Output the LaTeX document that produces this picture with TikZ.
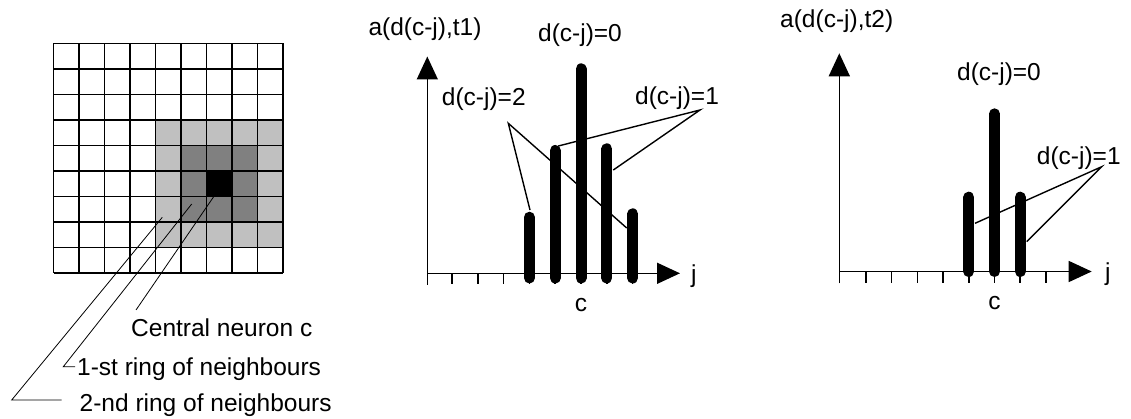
\documentclass[tikz,border=0pt]{standalone}
\usepackage{fontspec}
\setmainfont{Liberation Sans}
\usetikzlibrary{arrows.meta}
\definecolor{lightgrey}{HTML}{C0C0C0}
\definecolor{darkgrey}{HTML}{808080}
\begin{document}
\begin{tikzpicture}[x=1pt,y=-1pt,
  lbl/.style={inner sep=0pt, font=\fontsize{24.5}{29}\selectfont},
  axisline/.style={line width=1.5pt, -{Triangle[length=23pt,width=21pt]}},
  tickline/.style={line width=1.5pt},
  barline/.style={line width=11pt, line cap=round},
  pointer/.style={line width=1.4pt},
  thinpointer/.style={line width=0.8pt},
  gridline/.style={line width=1.7pt}]
\useasboundingbox (0,0) rectangle (1131,419);

% ---------------- grid ----------------
\def\gx{53.5}\def\gy{43.5}\def\cs{25.5}
\foreach \c in {4,...,8}{\foreach \r in {3,...,7}{
  \fill[lightgrey] ({\gx+\c*\cs},{\gy+\r*\cs}) rectangle ++(\cs,\cs);}}
\foreach \c in {5,...,7}{\foreach \r in {4,...,6}{
  \fill[darkgrey] ({\gx+\c*\cs},{\gy+\r*\cs}) rectangle ++(\cs,\cs);}}
\fill[black] ({\gx+6*\cs},{\gy+5*\cs}) rectangle ++(\cs,\cs);
\foreach \i in {0,...,9}{
  \draw[gridline] ({\gx+\i*\cs},\gy) -- ({\gx+\i*\cs},{\gy+9*\cs});
  \draw[gridline] (\gx,{\gy+\i*\cs}) -- ({\gx+9*\cs},{\gy+\i*\cs});}

% grid labels
\node[lbl, anchor=base west] (central) at (131,336.5) {Central neuron c};
\node[lbl, anchor=base west] (ring1) at (77,375.5) {1-st ring of neighbours};
\node[lbl, anchor=base west] (ring2) at (79.5,411.5) {2-nd ring of neighbours};

\coordinate (pc0) at (216,193.3);
\coordinate (pc1) at (136,310);
\coordinate (p10) at (191.7,204);
\coordinate (p11) at (63.3,366.7);
\coordinate (p12) at (75,366.7);
\coordinate (p20) at (162.3,217.3);
\coordinate (p21) at (11.7,400);
\coordinate (p22) at (61.7,400);
\draw[thinpointer] (pc0) -- (pc1);
\draw[thinpointer] (p10) -- (p11) -- (p12);
\draw[thinpointer] (p20) -- (p21) -- (p22);

% ---------------- chart 1 ----------------
\coordinate (o1) at (427.3,273.3);
\draw[axisline] (427.3,285) -- (427.3,56.5);
\draw[axisline] (427.3,273.3) -- (680,273.3);
\foreach \k in {0,...,7}{
  \draw[tickline] ({452+25.8*\k},273.3) -- ({452+25.8*\k},284.5);}
\draw[barline] (529.4,278) -- (529.4,217.2);
\draw[barline] (555.2,278) -- (555.2,150.5);
\draw[barline] (581,278) -- (581,68.8);
\draw[barline] (606.8,278) -- (606.8,148.8);
\draw[barline] (632.6,278) -- (632.6,213.8);

\node[lbl, anchor=base west] (ya1) at (368.3,36) {a(d(c-j),t1)};
\node[lbl, anchor=base] (d0a) at (580,41.5) {d(c-j)=0};
\node[lbl, anchor=base west] (d2a) at (441.7,106) {d(c-j)=2};
\node[lbl, anchor=base west] (d1a) at (635,105) {d(c-j)=1};
\node[lbl, anchor=base west] (ja) at (691,283) {j};
\node[lbl, anchor=base] (ca) at (581,312) {c};

\coordinate (a2) at (508.3,123.3);
\coordinate (a2l) at (530,210);
\coordinate (a2r) at (626.7,228);
\coordinate (a1) at (700,110);
\coordinate (a1l) at (558.3,146);
\coordinate (a1r) at (613.3,170);
\draw[pointer] (a2l) -- (a2) -- (a2r);
\draw[pointer] (a1l) -- (a1) -- (a1r);

% ---------------- chart 2 ----------------
\draw[axisline] (839.3,283.5) -- (839.3,53.3);
\draw[axisline] (839.3,271.5) -- (1091.7,271.5);
\foreach \k in {0,...,7}{
  \draw[tickline] ({866+25.7*\k},271.5) -- ({866+25.7*\k},283.5);}
\draw[barline] (968.8,271.5) -- (968.8,197.2);
\draw[barline] (994.5,271.5) -- (994.5,113.8);
\draw[barline] (1020.2,271.5) -- (1020.2,197.2);

\node[lbl, anchor=base west] (ya2) at (780,28) {a(d(c-j),t2)};
\node[lbl, anchor=base] (d0b) at (999,81) {d(c-j)=0};
\node[lbl, anchor=base west] (d1b) at (1036.7,164.5) {d(c-j)=1};
\node[lbl, anchor=base west] (jb) at (1105,281) {j};
\node[lbl, anchor=base] (cb) at (994.5,309) {c};

\coordinate (b1) at (1101.7,166.7);
\coordinate (b1l) at (975,223.3);
\coordinate (b1r) at (1026.7,241.7);
\draw[pointer] (b1l) -- (b1) -- (b1r);
\end{tikzpicture}
\end{document}
